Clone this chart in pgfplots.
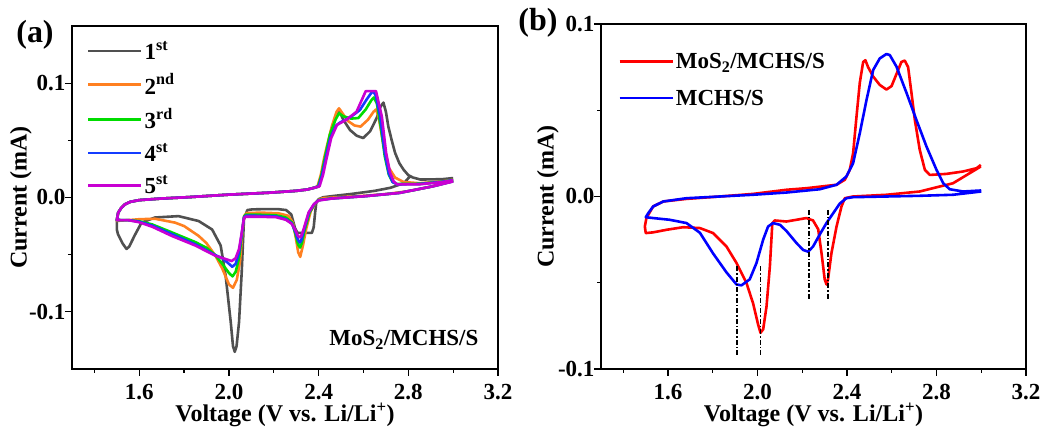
\documentclass[border=0pt]{standalone}
\usepackage{pgfplots}
\pgfplotsset{compat=1.18}
\usepackage{fontspec}
\setmainfont{Liberation Serif}
\definecolor{cgray}{RGB}{80,80,80}
\definecolor{corange}{RGB}{255,128,32}
\definecolor{cgreen}{RGB}{0,220,0}
\definecolor{cblue}{RGB}{20,60,255}
\definecolor{cmag}{RGB}{200,0,210}
\definecolor{cred}{RGB}{255,0,0}
\definecolor{cblueb}{RGB}{0,0,255}
\pgfplotsset{cvaxis/.style={
 scale only axis, width=426pt,
 xmin=1.3,xmax=3.2,
 xtick={1.6,2.0,2.4,2.8,3.2}, xticklabels={1.6,2.0,2.4,2.8,3.2},
 minor xtick={1.4,1.8,2.2,2.6,3.0},
 ytick={-0.1,0,0.1}, yticklabels={-0.1,0.0,0.1},
 minor ytick={-0.05,0.05},
 tick align=outside, xtick pos=bottom, ytick pos=left,
 major tick length=7pt, minor tick length=4pt,
 every tick/.style={black, line width=1.3pt},
 axis line style={line width=1.8pt},
 ticklabel style={font=\fontsize{23}{25}\selectfont\bfseries},
 xticklabel style={yshift=-5pt},
 yticklabel style={xshift=4pt},
 label style={font=\fontsize{24}{26}\selectfont\bfseries},
 xlabel={Voltage (V vs. Li/Li\textsuperscript{+})},
 ylabel={Current (mA)},
 legend cell align=left,
 legend image code/.code={\draw[#1] (0pt,0pt) -- (53pt,0pt);},
 legend style={draw=none, fill=none, font=\fontsize{23}{25}\selectfont\bfseries, anchor=north west, inner sep=0pt, row sep=9pt},
}}
\tikzset{cv/.style={line width=2.6pt, line join=round}}
\begin{document}
\begin{tikzpicture}
\useasboundingbox (0,0) rectangle (1047pt,427pt);
% ---------------- panel (a)
\begin{axis}[cvaxis, height=343pt, at={(72pt,58pt)}, anchor=south west,
 ymin=-0.15, ymax=0.15,
 ylabel style={at={(axis description cs:-0.12,0.5)}, anchor=center},
 xlabel style={at={(axis description cs:0.5,-0.134)}, anchor=center},
 legend style={at={(0.035,0.962)}}]
\addplot[cv, cgray] coordinates {
(2.81,0.019) (2.78,0.0125) (2.72,0.0085) (2.65,0.0058) (2.55,0.0032) (2.46,0.0012) (2.42,0.0002) (2.40,-0.0015) (2.39,-0.004) (2.385,-0.012) (2.378,-0.026) (2.37,-0.031) (2.34,-0.031) (2.306,-0.031) (2.295,-0.027) (2.278,-0.0148) (2.255,-0.011) (2.22,-0.0102) (2.15,-0.0102) (2.104,-0.0104) (2.082,-0.011) (2.067,-0.019) (2.057,-0.065) (2.045,-0.109) (2.034,-0.13) (2.026,-0.135) (2.018,-0.13) (2.008,-0.109) (1.985,-0.068) (1.963,-0.042) (1.925,-0.028) (1.865,-0.0206) (1.775,-0.0163) (1.67,-0.0175) (1.61,-0.022) (1.58,-0.033) (1.555,-0.043) (1.543,-0.045) (1.525,-0.04) (1.505,-0.032) (1.5,-0.028) (1.5,-0.0197)
(1.506,-0.0133) (1.52,-0.009) (1.536,-0.006) (1.56,-0.0038) (1.6,-0.0023) (1.7,-0.0009) (1.82,0.0003) (2.0,0.0025) (2.18,0.0042) (2.3,0.0058) (2.35,0.007) (2.38,0.0085)
(2.40,0.0095) (2.415,0.02) (2.43,0.035) (2.455,0.058) (2.48,0.072) (2.494,0.075) (2.51,0.068) (2.54,0.059) (2.57,0.054) (2.599,0.052) (2.63,0.058) (2.66,0.07) (2.675,0.079) (2.689,0.083) (2.70,0.075) (2.711,0.062) (2.726,0.05) (2.741,0.039) (2.76,0.03) (2.779,0.0243) (2.80,0.0195) (2.82,0.0175) (2.854,0.0157) (2.95,0.016) (3.0,0.017)};
\addlegendentry{1\textsuperscript{st}}
\addplot[cv, corange] coordinates {
(3.0,0.0145) (2.9,0.0095) (2.8,0.0055) (2.7,0.003) (2.6,0.0015) (2.5,0.0003) (2.42,-0.0005) (2.40,-0.002) (2.385,-0.005) (2.365,-0.012) (2.345,-0.027) (2.33,-0.042) (2.318,-0.0519) (2.309,-0.048) (2.298,-0.035) (2.285,-0.022) (2.265,-0.016) (2.22,-0.0138) (2.15,-0.0133) (2.08,-0.0135) (2.068,-0.016) (2.06,-0.03) (2.05,-0.055) (2.035,-0.072) (2.018,-0.079) (2.0,-0.076) (1.97,-0.062) (1.94,-0.051) (1.9,-0.04) (1.865,-0.0336) (1.8,-0.025) (1.76,-0.022) (1.67,-0.0186) (1.6,-0.019) (1.55,-0.0198) (1.5,-0.0205)
(1.506,-0.0133) (1.52,-0.009) (1.536,-0.006) (1.56,-0.0038) (1.6,-0.0023) (1.7,-0.0009) (1.82,0.0003) (2.0,0.0025) (2.18,0.0042) (2.3,0.0058) (2.35,0.007) (2.38,0.0085)
(2.395,0.0098) (2.41,0.02) (2.425,0.035) (2.437,0.045) (2.46,0.063) (2.48,0.075) (2.491,0.078) (2.505,0.074) (2.53,0.067) (2.56,0.063) (2.587,0.062) (2.62,0.068) (2.645,0.075) (2.656,0.077) (2.668,0.07) (2.69,0.045) (2.71,0.027) (2.741,0.0174) (2.78,0.0135) (2.85,0.0125) (2.95,0.014) (3.0,0.0155)};
\addlegendentry{2\textsuperscript{nd}}
\addplot[cv, cgreen] coordinates {
(3.0,0.0143) (2.91,0.0098) (2.76,0.004) (2.61,0.0012) (2.46,-0.0008) (2.40,-0.0022) (2.382,-0.0056) (2.36,-0.013) (2.337,-0.029) (2.325,-0.04) (2.317,-0.0438) (2.308,-0.041) (2.297,-0.032) (2.282,-0.022) (2.254,-0.0175) (2.209,-0.0155) (2.12,-0.015) (2.075,-0.015) (2.067,-0.017) (2.057,-0.034) (2.045,-0.053) (2.03,-0.065) (2.016,-0.069) (2.0,-0.066) (1.97,-0.058) (1.94,-0.0505) (1.9,-0.044) (1.85,-0.039) (1.745,-0.0305) (1.657,-0.0235) (1.6,-0.0208) (1.55,-0.0198) (1.5,-0.0197)
(1.506,-0.0133) (1.52,-0.009) (1.536,-0.006) (1.56,-0.0038) (1.6,-0.0023) (1.7,-0.0009) (1.82,0.0003) (2.0,0.0025) (2.18,0.0042) (2.3,0.0058) (2.35,0.007) (2.38,0.0085)
(2.398,0.0098) (2.413,0.02) (2.428,0.035) (2.45,0.055) (2.475,0.068) (2.491,0.0737) (2.51,0.071) (2.545,0.069) (2.577,0.0695) (2.61,0.077) (2.635,0.085) (2.647,0.0875) (2.66,0.082) (2.677,0.062) (2.695,0.036) (2.713,0.02) (2.73,0.0135) (2.75,0.0118) (2.85,0.012) (2.95,0.0138) (3.0,0.0153)};
\addlegendentry{3\textsuperscript{rd}}
\addplot[cv, cblue] coordinates {
(3.0,0.0142) (2.91,0.0098) (2.76,0.004) (2.61,0.0012) (2.46,-0.0008) (2.40,-0.0024) (2.38,-0.0058) (2.357,-0.013) (2.335,-0.028) (2.322,-0.038) (2.316,-0.0394) (2.308,-0.037) (2.296,-0.03) (2.28,-0.0225) (2.254,-0.019) (2.209,-0.0165) (2.12,-0.016) (2.075,-0.016) (2.067,-0.0175) (2.057,-0.032) (2.045,-0.048) (2.03,-0.058) (2.015,-0.0606) (2.0,-0.058) (1.97,-0.053) (1.94,-0.0505) (1.85,-0.041) (1.745,-0.032) (1.657,-0.0245) (1.596,-0.021) (1.55,-0.0198) (1.5,-0.0197)
(1.506,-0.0133) (1.52,-0.009) (1.536,-0.006) (1.56,-0.0038) (1.6,-0.0023) (1.7,-0.0009) (1.82,0.0003) (2.0,0.0025) (2.18,0.0042) (2.3,0.0058) (2.35,0.007) (2.38,0.0085)
(2.40,0.0098) (2.416,0.02) (2.43,0.033) (2.452,0.052) (2.478,0.063) (2.495,0.0655) (2.52,0.068) (2.55,0.0715) (2.584,0.0765) (2.615,0.086) (2.635,0.0915) (2.645,0.0925) (2.655,0.089) (2.675,0.07) (2.695,0.039) (2.713,0.021) (2.73,0.0135) (2.75,0.0115) (2.85,0.0118) (2.95,0.0137) (3.0,0.0152)};
\addlegendentry{4\textsuperscript{st}}
\addplot[cv, cmag] coordinates {
(3.0,0.014) (2.91,0.0098) (2.76,0.004) (2.61,0.0012) (2.46,-0.0009) (2.40,-0.0026) (2.378,-0.006) (2.355,-0.0133) (2.333,-0.0277) (2.322,-0.034) (2.315,-0.035) (2.306,-0.033) (2.295,-0.028) (2.28,-0.023) (2.254,-0.0195) (2.209,-0.0172) (2.12,-0.0168) (2.075,-0.0168) (2.067,-0.018) (2.057,-0.031) (2.045,-0.045) (2.03,-0.053) (2.012,-0.0556) (1.98,-0.0535) (1.94,-0.051) (1.85,-0.042) (1.745,-0.0336) (1.657,-0.0255) (1.596,-0.0215) (1.55,-0.0198) (1.5,-0.0197)
(1.506,-0.0133) (1.52,-0.009) (1.536,-0.006) (1.56,-0.0038) (1.6,-0.0023) (1.7,-0.0009) (1.82,0.0003) (2.0,0.0025) (2.18,0.0042) (2.3,0.0058) (2.35,0.007) (2.38,0.0085)
(2.404,0.0098) (2.42,0.02) (2.434,0.033) (2.456,0.052) (2.482,0.0635) (2.524,0.068) (2.569,0.075) (2.61,0.093) (2.656,0.093) (2.682,0.0707) (2.701,0.039) (2.719,0.0215) (2.735,0.014) (2.75,0.0115) (2.85,0.0115) (2.95,0.0135) (3.0,0.015)};
\addlegendentry{5\textsuperscript{st}}
\node[font=\fontsize{23}{25}\selectfont\bfseries] at (rel axis cs:0.779,0.085) {MoS\textsubscript{2}/MCHS/S};
\end{axis}
% ---------------- panel (b)
\begin{axis}[cvaxis, height=345pt, at={(601pt,58pt)}, anchor=south west,
 width=425pt, ymin=-0.1, ymax=0.1,
 ylabel style={at={(axis description cs:-0.125,0.5)}, anchor=center},
 xlabel style={at={(axis description cs:0.5,-0.133)}, anchor=center},
 legend style={at={(0.04,0.922)}, row sep=16pt}]
\addplot[cv, cred] coordinates {
(2.998,0.0174) (2.874,0.0077) (2.725,0.0029) (2.576,0.001) (2.427,0) (2.39,-0.001) (2.375,-0.0058) (2.353,-0.0174) (2.33,-0.033) (2.315,-0.048) (2.308,-0.051) (2.30,-0.048) (2.286,-0.033) (2.271,-0.019) (2.248,-0.0139) (2.218,-0.0125) (2.174,-0.0135) (2.129,-0.0145) (2.077,-0.0139) (2.066,-0.0154) (2.055,-0.0405) (2.04,-0.0637) (2.025,-0.077) (2.013,-0.079) (2.002,-0.074) (1.98,-0.062) (1.95,-0.050) (1.906,-0.0386) (1.861,-0.029) (1.801,-0.0212) (1.742,-0.0183) (1.667,-0.0178) (1.593,-0.0193) (1.533,-0.0208) (1.5,-0.0212) (1.496,-0.0174) (1.503,-0.0125) (1.533,-0.0058) (1.578,-0.0029) (1.682,-0.0014) (1.831,0) (1.98,0.0015) (2.129,0.0039) (2.218,0.0048) (2.353,0.0068) (2.39,0.0097) (2.412,0.0154) (2.427,0.025) (2.442,0.046) (2.457,0.066) (2.472,0.078) (2.482,0.079) (2.494,0.075) (2.517,0.0695) (2.546,0.0647) (2.576,0.062) (2.599,0.064) (2.621,0.071) (2.643,0.078) (2.658,0.0788) (2.673,0.075) (2.688,0.060) (2.703,0.0444) (2.725,0.027) (2.748,0.0154) (2.77,0.0125) (2.844,0.0131) (2.919,0.0145) (2.979,0.0164) (2.998,0.0183)};
\addlegendentry{MoS\textsubscript{2}/MCHS/S}
\addplot[cv, cblueb] coordinates {
(3.0,0.0029) (2.874,0.001) (2.725,0.0004) (2.576,0) (2.427,-0.0004) (2.397,-0.001) (2.368,-0.004) (2.338,-0.0097) (2.308,-0.0154) (2.278,-0.022) (2.248,-0.029) (2.226,-0.032) (2.204,-0.031) (2.174,-0.027) (2.129,-0.020) (2.1,-0.0164) (2.069,-0.0154) (2.047,-0.0174) (2.025,-0.025) (1.995,-0.0386) (1.965,-0.048) (1.928,-0.0515) (1.906,-0.051) (1.861,-0.044) (1.801,-0.033) (1.742,-0.021) (1.682,-0.0154) (1.607,-0.0135) (1.533,-0.0125) (1.5,-0.012) (1.511,-0.0097) (1.533,-0.0058) (1.578,-0.0029) (1.682,-0.001) (1.831,0) (1.98,0.001) (2.129,0.0023) (2.278,0.0042) (2.353,0.0068) (2.397,0.0116) (2.427,0.0193) (2.457,0.0367) (2.487,0.056) (2.517,0.0734) (2.546,0.080) (2.576,0.0826) (2.591,0.082) (2.621,0.0753) (2.666,0.060) (2.71,0.0444) (2.755,0.029) (2.8,0.0154) (2.83,0.0077) (2.859,0.0042) (2.919,0.0029) (3.0,0.0035)};
\addlegendentry{MCHS/S}
\addplot[black, line width=1.2pt, dash pattern=on 5pt off 2pt on 1.5pt off 2pt, forget plot] coordinates {(1.908,-0.0405) (1.908,-0.0927)};
\addplot[black, line width=1.2pt, dash pattern=on 5pt off 2pt on 1.5pt off 2pt, forget plot] coordinates {(2.014,-0.0405) (2.014,-0.0927)};
\addplot[black, line width=1.2pt, dash pattern=on 5pt off 2pt on 1.5pt off 2pt, forget plot] coordinates {(2.230,-0.0077) (2.230,-0.0598)};
\addplot[black, line width=1.2pt, dash pattern=on 5pt off 2pt on 1.5pt off 2pt, forget plot] coordinates {(2.315,-0.0077) (2.315,-0.0598)};
\end{axis}
\node[font=\fontsize{32}{34}\selectfont\bfseries] at (35pt,392pt) {(a)};
\node[font=\fontsize{32}{34}\selectfont\bfseries] at (538pt,404pt) {(b)};
\end{tikzpicture}
\end{document}
